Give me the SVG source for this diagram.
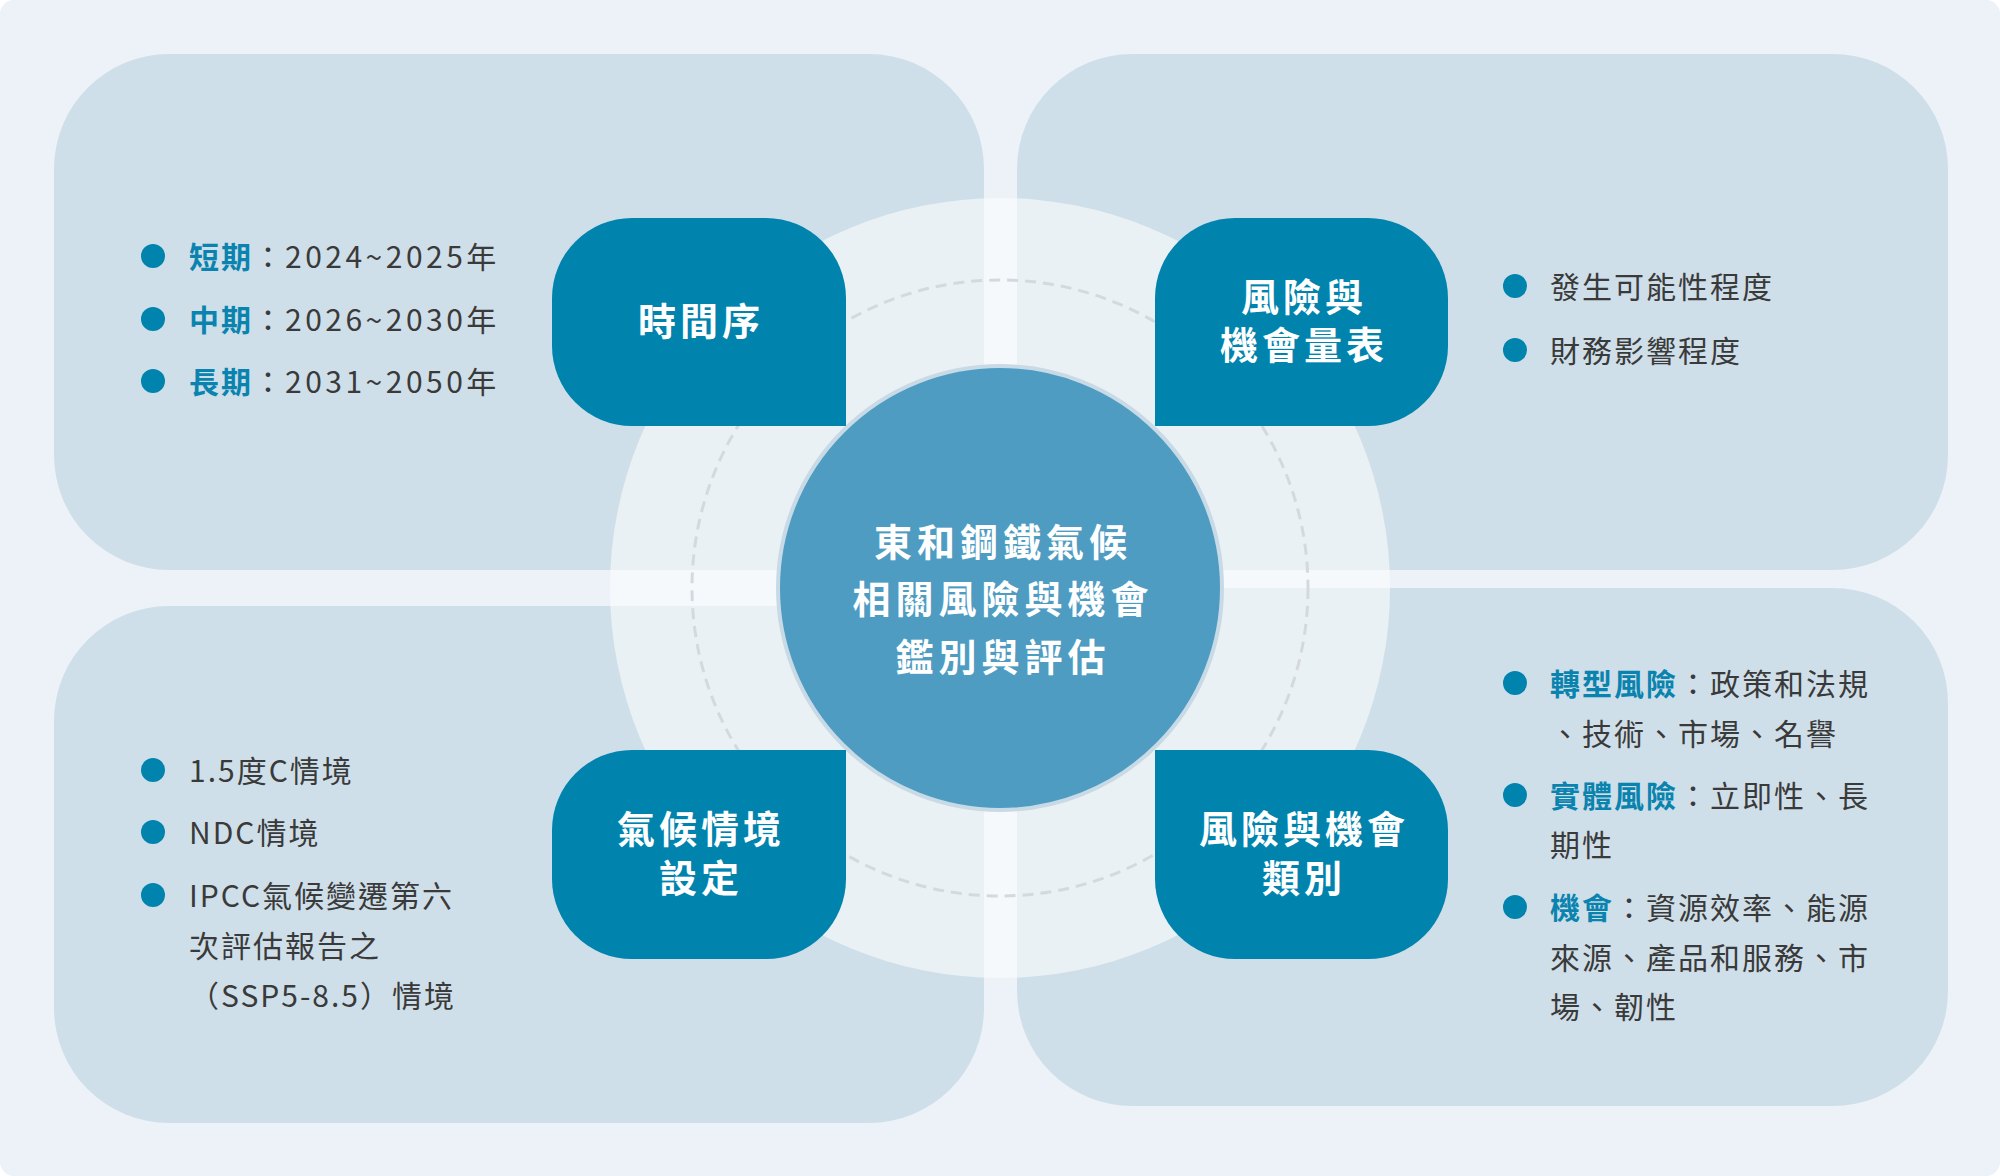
<svg xmlns="http://www.w3.org/2000/svg" width="2000" height="1176" viewBox="0 0 2000 1176">
<style>
.panel{fill:#cfdfe9}
.node{fill:#0083ad}
.nt{font-family:"Noto Sans CJK TC","Noto Sans CJK SC",sans-serif;font-size:38px;font-weight:700;fill:#ffffff;text-anchor:middle;letter-spacing:4px}
.ct{font-family:"Noto Sans CJK TC","Noto Sans CJK SC",sans-serif;font-size:38px;font-weight:700;fill:#ffffff;text-anchor:middle;letter-spacing:5px}
.tx{font-family:"Noto Sans CJK TC","Noto Sans CJK SC",sans-serif;font-size:30px;fill:#3a3a3a;letter-spacing:2px}
.b{font-weight:700;fill:#0a84af}
.n{letter-spacing:3.5px}
.dot{fill:#0083ad}
</style>
<rect x="0" y="0" width="2000" height="1176" rx="14" fill="#ecf2f8"/>
<g id="panels">
<rect class="panel" x="54" y="54" width="930" height="516" rx="115"/>
<rect class="panel" x="1017" y="54" width="931" height="516" rx="115"/>
<rect class="panel" x="54" y="606" width="930" height="517" rx="115"/>
<rect class="panel" x="1017" y="588" width="931" height="518" rx="115"/>
</g>
<g id="backdrop">
<circle cx="1000" cy="588" r="390" fill="#ffffff" fill-opacity="0.55"/>
</g>
<g id="ring">
<circle cx="1000" cy="588" r="308" fill="none" stroke="#d5d9dd" stroke-width="3" stroke-dasharray="11 7"/>
</g>
<g id="connectors"></g>
<g id="center">
<circle cx="1000" cy="588" r="222" fill="#4e9cc1" stroke="#c8dae6" stroke-width="4"/>
<text class="ct"><tspan x="1003" y="556">東和鋼鐵氣候</tspan><tspan x="1003" y="613">相關風險與機會</tspan><tspan x="1003" y="671">鑑別與評估</tspan></text>
</g>
<g id="node-time">
<path class="node" d="M632,218 H766 A80,80 0 0 1 846,298 V426 H632 A80,80 0 0 1 552,346 V298 A80,80 0 0 1 632,218 Z"/>
<text class="nt" x="701" y="335">時間序</text>
</g>
<g id="node-scale">
<path class="node" d="M1235,218 H1368 A80,80 0 0 1 1448,298 V346 A80,80 0 0 1 1368,426 H1155 V298 A80,80 0 0 1 1235,218 Z"/>
<text class="nt"><tspan x="1304" y="311">風險與</tspan><tspan x="1304" y="359">機會量表</tspan></text>
</g>
<g id="node-scenario">
<path class="node" d="M632,750 H846 V879 A80,80 0 0 1 766,959 H632 A80,80 0 0 1 552,879 V830 A80,80 0 0 1 632,750 Z"/>
<text class="nt"><tspan x="701" y="843">氣候情境</tspan><tspan x="701" y="892">設定</tspan></text>
</g>
<g id="node-category">
<path class="node" d="M1155,750 H1368 A80,80 0 0 1 1448,830 V879 A80,80 0 0 1 1368,959 H1235 A80,80 0 0 1 1155,879 Z"/>
<text class="nt"><tspan x="1304" y="843">風險與機會</tspan><tspan x="1304" y="892">類別</tspan></text>
</g>
<g id="list-time">
<circle class="dot" cx="153" cy="256" r="12"/>
<circle class="dot" cx="153" cy="319" r="12"/>
<circle class="dot" cx="153" cy="381" r="12"/>
<text class="tx" x="189" y="268"><tspan class="b">短期</tspan>：<tspan class="n">2024~2025</tspan>年</text>
<text class="tx" x="189" y="331"><tspan class="b">中期</tspan>：<tspan class="n">2026~2030</tspan>年</text>
<text class="tx" x="189" y="393"><tspan class="b">長期</tspan>：<tspan class="n">2031~2050</tspan>年</text>
</g>
<g id="list-scale">
<circle class="dot" cx="1515" cy="286" r="12"/>
<circle class="dot" cx="1515" cy="350" r="12"/>
<text class="tx" x="1550" y="298">發生可能性程度</text>
<text class="tx" x="1550" y="362">財務影響程度</text>
</g>
<g id="list-scenario">
<circle class="dot" cx="153" cy="770" r="12"/>
<circle class="dot" cx="153" cy="832" r="12"/>
<circle class="dot" cx="153" cy="895" r="12"/>
<text class="tx" x="189" y="782">1.5度C情境</text>
<text class="tx" x="189" y="844">NDC情境</text>
<text class="tx"><tspan x="189" y="907">IPCC氣候變遷第六</tspan><tspan x="189" y="957">次評估報告之</tspan><tspan x="189" y="1007">（SSP5-8.5）情境</tspan></text>
</g>
<g id="list-category">
<circle class="dot" cx="1515" cy="683" r="12"/>
<circle class="dot" cx="1515" cy="795" r="12"/>
<circle class="dot" cx="1515" cy="907" r="12"/>
<text class="tx"><tspan x="1550" y="695"><tspan class="b">轉型風險</tspan>：政策和法規</tspan><tspan x="1550" y="745">、技術、市場、名譽</tspan></text>
<text class="tx"><tspan x="1550" y="807"><tspan class="b">實體風險</tspan>：立即性、長</tspan><tspan x="1550" y="856">期性</tspan></text>
<text class="tx"><tspan x="1550" y="919"><tspan class="b">機會</tspan>：資源效率、能源</tspan><tspan x="1550" y="969">來源、產品和服務、市</tspan><tspan x="1550" y="1018">場、韌性</tspan></text>
</g>
</svg>
